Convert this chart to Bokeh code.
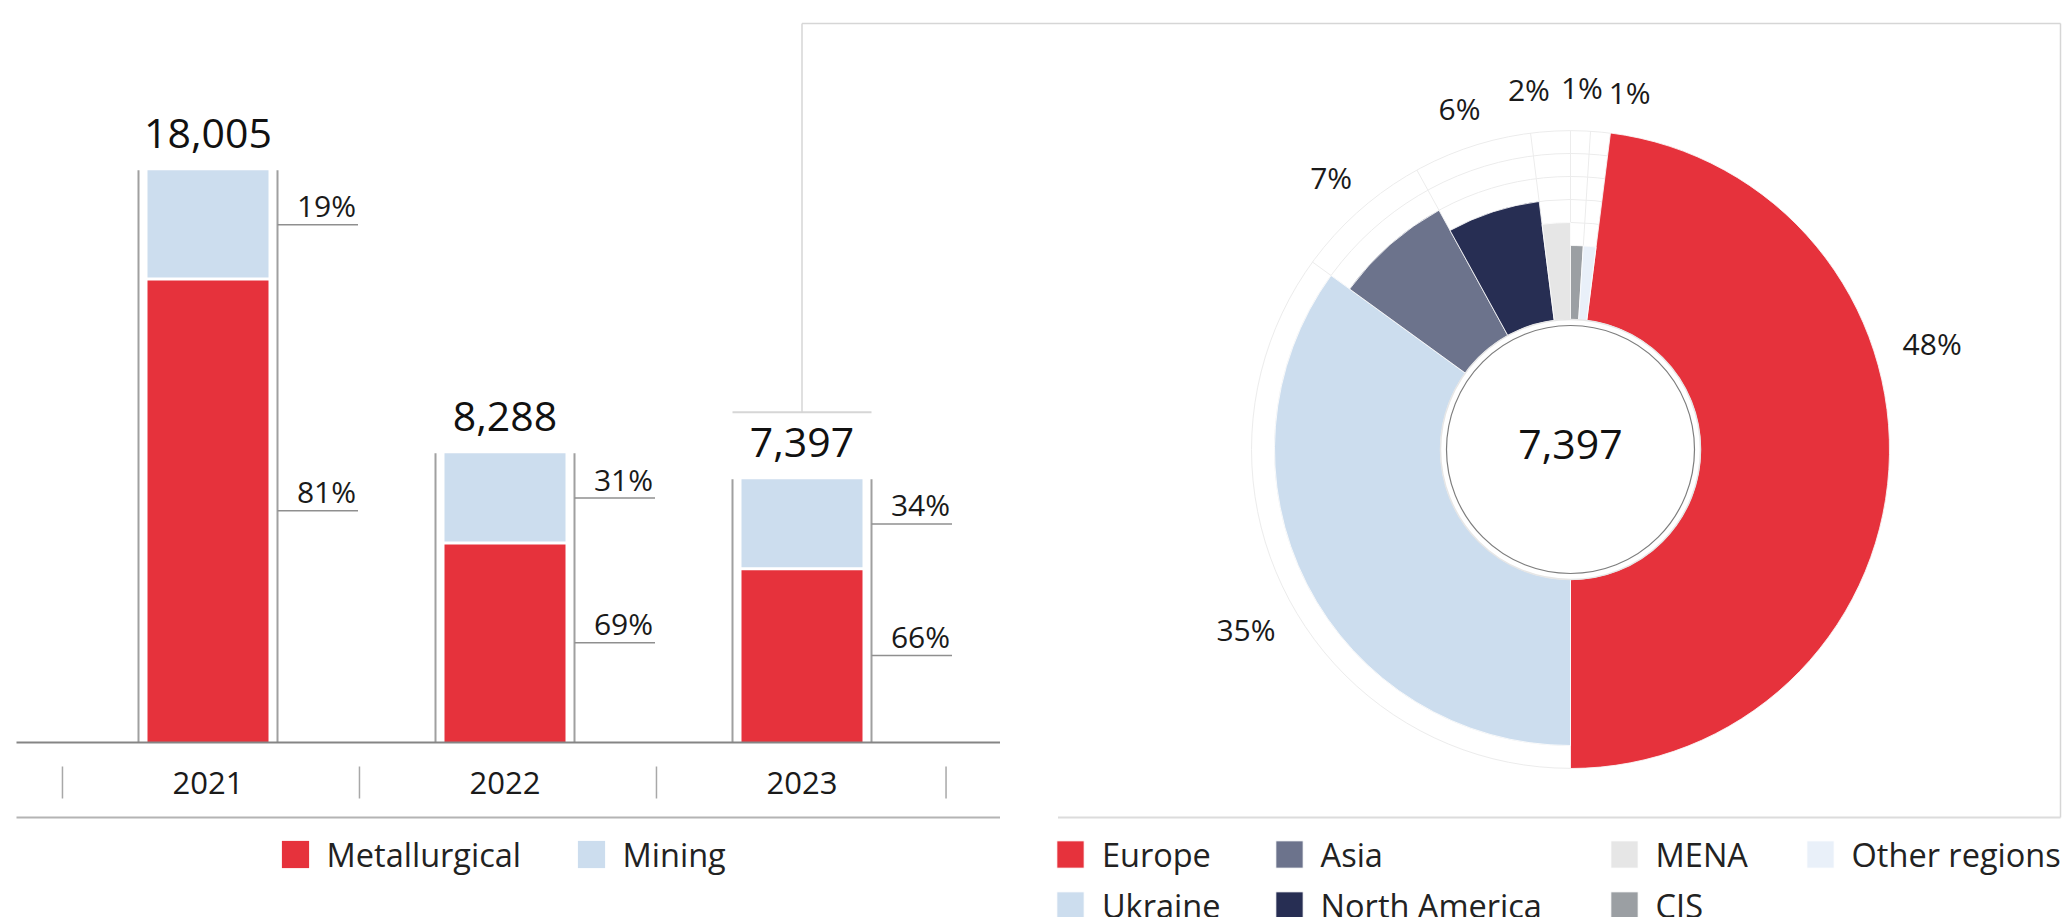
import math
from bokeh.plotting import figure
from bokeh.models import Range1d, Legend, LegendItem, ColumnDataSource
from bokeh.core.properties import value
from bokeh.embed import file_html
from bokeh.resources import INLINE

# ---------------- data ----------------
YEARS = ["2021", "2022", "2023"]
TOTALS = [18005, 8288, 7397]
METALLURGICAL_PCT = [81, 69, 66]
MINING_PCT = [19, 31, 34]

REGIONS = ["Europe", "Ukraine", "Asia", "North America", "MENA", "CIS", "Other regions"]
REGION_PCT = [48, 35, 7, 6, 2, 1, 1]
REGION_TOTAL = 7397

# ---------------- styles / layout ----------------
RED = "#E6323C"
BLUE = "#CCDDEE"
REGION_COLORS = [RED, BLUE, "#6C738C", "#272E53", "#E6E6E6", "#9B9FA3", "#E9F0F9"]
FONT_NAME = "Open Sans"
FONT = value(FONT_NAME)
INK = "#1a1a1a"

W, H = 2064, 917
CAT_PX = 297.0      # px per category
CAT0_PX = 207.5     # px of first category centre
PXU = 0.02911       # px per value unit
BASE = -1650.0      # value at the drawn (truncated) baseline
BASE_PX = 175.0     # baseline height above canvas bottom

PIE_CX, PIE_CY = 1570.0, 468.0   # from left / from bottom
R_OUT, R_STEP, R_IN = 319.0, 23.0, 130.0
LABEL_R = 362.0
LABEL_NUDGE = [-20, -2, 0, 0, -3, 0, 4]
LABEL_R_NUDGE = [15, 9, 0, -3, 0, 0, 0]


def dx(px):
    return px / CAT_PX


def dy(px):
    return px / PXU


p = figure(width=W, height=H,
           x_range=Range1d(-CAT0_PX / CAT_PX, (W - CAT0_PX) / CAT_PX),
           y_range=Range1d(BASE - dy(BASE_PX), BASE + dy(H - BASE_PX)),
           x_axis_type=None, y_axis_type=None,
           output_backend="svg", toolbar_location=None, min_border=0)
p.outline_line_color = None
p.background_fill_color = "white"
p.border_fill_color = "white"
p.extra_x_ranges = {"pie_x": Range1d(-PIE_CX, W - PIE_CX)}
p.extra_y_ranges = {"pie_y": Range1d(-PIE_CY, H - PIE_CY)}

# ---------------- stacked bars ----------------
xs = list(range(len(YEARS)))
split = [BASE + m / 100.0 * (t - BASE) for t, m in zip(TOTALS, METALLURGICAL_PCT)]
src = ColumnDataSource(dict(
    x=xs, base=[BASE] * len(xs), split=split, top=TOTALS,
    met_mid=[(BASE + s) / 2 for s in split],
    min_mid=[(s + t) / 2 for s, t in zip(split, TOTALS)],
    xl=[x - dx(69.5) for x in xs], xr=[x + dx(69.5) for x in xs],
    xe=[x + dx(150) for x in xs], xt=[x + dx(148) for x in xs],
    sx0=[x - dx(62) for x in xs], sx1=[x + dx(62) for x in xs],
    total_lbl=[f"{t:,}" for t in TOTALS],
    met_lbl=[f"{m}%" for m in METALLURGICAL_PCT],
    min_lbl=[f"{m}%" for m in MINING_PCT],
    year=YEARS,
))

r_met = p.vbar(x="x", bottom="base", top="split", width=dx(121), fill_color=RED,
               line_color=None, source=src)
r_min = p.vbar(x="x", bottom="split", top="top", width=dx(121), fill_color=BLUE,
               line_color=None, source=src)
# white gap between segments
p.segment(x0="sx0", y0="split", x1="sx1", y1="split", line_color="white",
          line_width=3, source=src)

# bracket lines
p.segment(x0="xl", y0="base", x1="xl", y1="top", line_color="#a0a0a0", line_width=2, source=src)
p.segment(x0="xr", y0="base", x1="xr", y1="top", line_color="#a0a0a0", line_width=2, source=src)
# label leader lines
p.segment(x0="xr", y0="min_mid", x1="xe", y1="min_mid", line_color="#8f8f8f", line_width=1.5, source=src)
p.segment(x0="xr", y0="met_mid", x1="xe", y1="met_mid", line_color="#8f8f8f", line_width=1.5, source=src)

p.text(x="xt", y="min_mid", text="min_lbl", text_font=FONT, text_font_size="30px",
       text_align="right", text_baseline="middle", y_offset=-19, text_color=INK, source=src)
p.text(x="xt", y="met_mid", text="met_lbl", text_font=FONT, text_font_size="30px",
       text_align="right", text_baseline="middle", y_offset=-19, text_color=INK, source=src)
p.text(x="x", y="top", text="total_lbl", text_font=FONT, text_font_size="41px",
       text_align="center", text_baseline="middle", y_offset=-37, text_color="#111111", source=src)
p.text(x="x", y="base", text="year", text_font=FONT, text_font_size="31px",
       text_align="center", text_baseline="middle", y_offset=40, text_color=INK, source=src)

# category axis line, separators and bottom rule
x_left = xs[0] - dx(191.5)
x_right = xs[-1] + dx(198)
p.segment(x0=[x_left], y0=[BASE], x1=[x_right], y1=[BASE], line_color="#858585", line_width=2)
seps = [x - 0.49 for x in xs] + [xs[-1] + 0.485]
p.segment(x0=seps, y0=[BASE - dy(24)] * len(seps), x1=seps, y1=[BASE - dy(56)] * len(seps),
          line_color="#a8a8a8", line_width=1.5)
p.segment(x0=[x_left], y0=[BASE - dy(75)], x1=[x_right], y1=[BASE - dy(75)],
          line_color="#b4b4b4", line_width=2)

# callout frame from the 2023 bar to the pie panel
xc = xs[-1]
y_call = TOTALS[-1] + dy(67)
y_frame_top = BASE + dy(719)
y_frame_bot = BASE - dy(75)
x_frame_r = p.x_range.end - dx(4)
x_frame_bl = xs[0] + dx(850)
FRAME = "#d6d6d6"
p.segment(x0=[xc - dx(69.5)], y0=[y_call], x1=[xc + dx(69.5)], y1=[y_call], line_color=FRAME, line_width=2)
p.segment(x0=[xc], y0=[y_call], x1=[xc], y1=[y_frame_top], line_color=FRAME, line_width=1.5)
p.segment(x0=[xc], y0=[y_frame_top], x1=[x_frame_r], y1=[y_frame_top], line_color=FRAME, line_width=1.5)
p.segment(x0=[x_frame_r], y0=[y_frame_top], x1=[x_frame_r], y1=[y_frame_bot], line_color=FRAME, line_width=1.5)
p.segment(x0=[x_frame_bl], y0=[y_frame_bot], x1=[x_frame_r], y1=[y_frame_bot], line_color="#dcdcdc", line_width=2)

# ---------------- pie (variable radius donut) ----------------
ranks = sorted(set(REGION_PCT), reverse=True)
radii = [R_OUT - R_STEP * ranks.index(v) for v in REGION_PCT]
theta0 = 180.0 - REGION_PCT[0] * 3.6   # first slice ends at the bottom
starts, ends = [], []
t = theta0
for v in REGION_PCT:
    starts.append(t)
    t += v * 3.6
    ends.append(t)

# background grid: concentric rings and radial spokes
grid_r = [R_OUT - R_STEP * k for k in range(9)]
p.circle(x=[0] * len(grid_r), y=[0] * len(grid_r), radius=grid_r, fill_color=None,
         line_color="#ececec", line_width=1, x_range_name="pie_x", y_range_name="pie_y")
spoke_a = [math.radians(s) for s in starts]
p.segment(x0=[R_IN * math.sin(a) for a in spoke_a], y0=[R_IN * math.cos(a) for a in spoke_a],
          x1=[R_OUT * math.sin(a) for a in spoke_a], y1=[R_OUT * math.cos(a) for a in spoke_a],
          line_color="#ececec", line_width=1, x_range_name="pie_x", y_range_name="pie_y")

pie_src = ColumnDataSource(dict(
    region=REGIONS, pct=REGION_PCT, color=REGION_COLORS, r=radii,
    sa=[math.radians(90 - s) for s in starts], ea=[math.radians(90 - e) for e in ends],
))
r_pie = p.annular_wedge(x=0, y=0, inner_radius=R_IN, outer_radius="r", start_angle="sa",
                        end_angle="ea", direction="clock", fill_color="color",
                        line_color="white", line_width=0.8, source=pie_src,
                        x_range_name="pie_x", y_range_name="pie_y")

p.circle(x=[0], y=[0], radius=[R_IN], fill_color="white", line_color="#e6e6e6", line_width=1.5,
         x_range_name="pie_x", y_range_name="pie_y")
p.circle(x=[0], y=[0], radius=[124], fill_color="white", line_color="#7d7d7d", line_width=1.2,
         x_range_name="pie_x", y_range_name="pie_y")
p.text(x=[0], y=[0], text=[f"{REGION_TOTAL:,}"], text_font=FONT, text_font_size="41px",
       text_align="center", text_baseline="middle", y_offset=-5, text_color="#111111",
       x_range_name="pie_x", y_range_name="pie_y")

mids = [(s + e) / 2 + n for s, e, n in zip(starts, ends, LABEL_NUDGE)]
lrs = [LABEL_R + n for n in LABEL_R_NUDGE]
p.text(x=[r * math.sin(math.radians(m)) for r, m in zip(lrs, mids)],
       y=[r * math.cos(math.radians(m)) for r, m in zip(lrs, mids)],
       text=[f"{v}%" for v in REGION_PCT], text_font=FONT, text_font_size="30px",
       text_align="center", text_baseline="middle", text_color=INK,
       x_range_name="pie_x", y_range_name="pie_y")


# ---------------- legends ----------------
def add_legend(label, renderer, index, x, y):
    item = LegendItem(label=label, renderers=[renderer], index=index)
    lg = Legend(items=[item], location=(x, y), glyph_width=34, glyph_height=34,
                label_standoff=15, label_height=34, label_text_font=FONT_NAME,
                label_text_font_size="32.5px", label_text_color="#222222",
                padding=0, margin=0, spacing=0, border_line_color=None,
                background_fill_alpha=0, inactive_fill_alpha=0)
    p.add_layout(lg)


ROW1 = 40.5
ROW2 = ROW1 - 51
add_legend("Metallurgical", r_met, 0, 277.6, ROW1)
add_legend("Mining", r_min, 0, 573.6, ROW1)
pie_cols = [1052.9, 1271.6, 1606.6, 1802.6]
for i, name in enumerate(REGIONS):
    col, row = i // 2, i % 2
    add_legend(name, r_pie, i, pie_cols[col], ROW1 if row == 0 else ROW2)

open("out.html", "w").write(file_html(p, INLINE))
